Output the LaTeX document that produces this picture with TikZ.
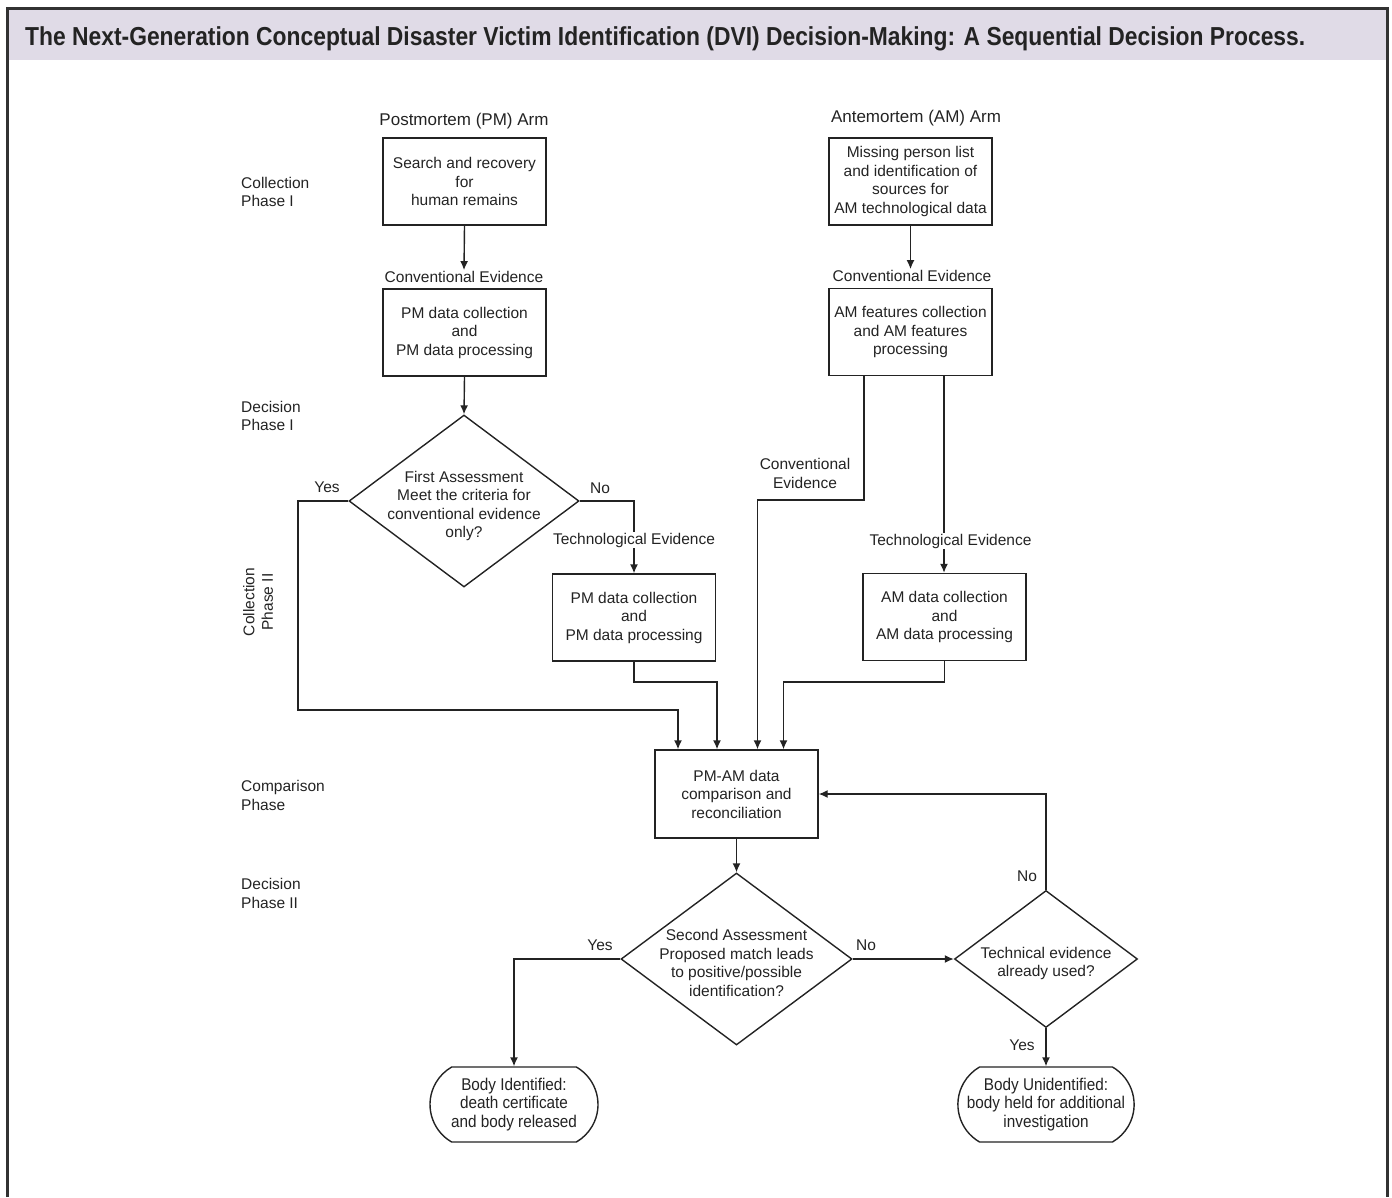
\documentclass[tikz,border=0pt]{standalone}
\usepackage{fontspec}
\setmainfont{Liberation Sans}
\newfontfamily\condfont{Liberation Sans}[FakeStretch=0.9]
\usetikzlibrary{arrows.meta,shapes.geometric,shapes.misc,calc}
\definecolor{band}{RGB}{224,219,231}
\definecolor{ink}{RGB}{35,35,35}
\definecolor{framec}{RGB}{50,50,50}
\begin{document}
\begin{tikzpicture}[x=1pt,y=-1pt,
 every node/.style={text=ink},
 body/.style={font=\fontsize{15.5}{18.5}\selectfont, align=center, inner sep=1pt},
 box/.style={draw=ink, line width=1.4pt, minimum width=163pt, minimum height=87pt, inner sep=0pt, align=center, font=\fontsize{15.5}{18.5}\selectfont},
 dec/.style={diamond, draw=ink, line width=1.4pt, inner sep=0pt},
 term/.style={rounded rectangle, rounded rectangle arc length=120, draw=ink, line width=1.4pt, minimum width=168pt, minimum height=75pt, inner sep=0pt, align=center, font=\condfont\fontsize{17}{18.5}\selectfont},
 phase/.style={font=\fontsize{15.5}{18.5}\selectfont, align=left, anchor=west, inner sep=0pt},
 conn/.style={draw=ink, line width=1.4pt},
 arr/.style={conn, -{Latex[length=9pt,width=8pt]}},
]
\useasboundingbox (0,0) rectangle (1392,1197);
\fill[band] (7,8) rectangle (1387,60);
\draw[framec, line width=3pt] (7,1197) -- (7,8) -- (1387,8) -- (1387,1197);
\node[anchor=base west, inner sep=0pt] (title) at (25,45) {\resizebox{1280pt}{\height}{\fontsize{26}{30}\selectfont\bfseries The Next-Generation Conceptual Disaster Victim Identification (DVI) Decision-Making: A Sequential Decision Process.}};

% phase labels
\node[phase] (ph1) at (241,192) {Collection\\Phase I};
\node[phase] (ph2) at (241,416) {Decision\\Phase I};
\node[font=\fontsize{15.5}{18.5}\selectfont, align=center, rotate=90, inner sep=0pt] (ph3) at (258,602) {Collection\\Phase II};
\node[phase] (ph4) at (241,795.5) {Comparison\\Phase};
\node[phase] (ph5) at (241,893.5) {Decision\\Phase II};

% arm headers
\node[font=\fontsize{17}{20}\selectfont, inner sep=0pt] (pmarm) at (464,121) {Postmortem (PM) Arm};
\node[font=\fontsize{17}{20}\selectfont, inner sep=0pt] (amarm) at (916,118) {Antemortem (AM) Arm};

% PM arm
\node[box] (b1) at (464.5,181.5) {Search and recovery\\for\\human remains};
\node[body] (ce1) at (464,277) {Conventional Evidence};
\node[box] (b2) at (464.5,332.5) {PM data collection\\and\\PM data processing};
\node[dec, minimum width=230pt, minimum height=172pt] (d1) at (464,501) {};
\node[body] (d1t) at (464,506) {First Assessment\\Meet the criteria for\\conventional evidence\\only?};
\node[body] (y1) at (327,487) {Yes};
\node[body] (n1) at (600,488) {No};
\node[body] (te1) at (634,540) {Technological Evidence};
\node[box] (b3) at (634,617.5) {PM data collection\\and\\PM data processing};

% AM arm
\node[box] (b4) at (910.5,181.5) {Missing person list\\and identification of\\sources for\\AM technological data};
\node[body] (ce2) at (912,276) {Conventional Evidence};
\node[box] (b5) at (910.5,332) {AM features collection\\and AM features\\processing};
\node[body] (ce3) at (805,473.5) {Conventional\\Evidence};
\node[body] (te2) at (950.5,541) {Technological Evidence};
\node[box] (b6) at (944.5,617) {AM data collection\\and\\AM data processing};

% comparison
\node[box, minimum height=88pt] (cmp) at (736.5,794) {PM-AM data\\comparison and\\reconciliation};
\node[dec, minimum width=231pt, minimum height=172pt] (d2) at (736.5,959) {};
\node[body] (d2t) at (736.5,963) {Second Assessment\\Proposed match leads\\to positive/possible\\identification?};
\node[dec, minimum width=183pt, minimum height=137pt] (d3) at (1046,959) {};
\node[body] (d3t) at (1046,963.5) {Technical evidence\\already used?};
\node[body] (y2) at (600,945) {Yes};
\node[body] (n2) at (866,945) {No};
\node[body] (n3) at (1027,876) {No};
\node[body] (y3) at (1022,1045) {Yes};
\node[term] (bid) at (514,1104.5) {Body Identified:\\death certificate\\and body released};
\node[term] (bun) at (1046,1104.5) {Body Unidentified:\\body held for additional\\investigation};

% coordinates
\coordinate (yc) at (298,710);
\coordinate (j1) at (717,682);
\coordinate (c1) at (757.5,500);
\coordinate (t2) at ([xshift=33.5pt]b5.south);
\coordinate (s1) at ([xshift=-46.5pt]b5.south);
\coordinate (j2) at (783.5,682);
\coordinate (i1) at (678,710);

% connectors
\draw[arr] (b1.south) -- (ce1.north);
\draw[arr] (b2.south) -- (d1.north);
\draw[arr] (d1.west) -| (yc) -- (i1) -- (i1 |- cmp.north);
\draw[conn] (d1.east) -| (te1.north);
\draw[arr] (te1.south) -- (b3.north);
\draw[arr] (b3.south) |- (j1) -- (j1 |- cmp.north);

\draw[arr] (b4.south) -- (b4.south |- ce2.north);
\draw[arr] (s1) |- (c1) -- (c1 |- cmp.north);
\draw[conn] (t2) -- (t2 |- te2.north);
\draw[arr] (t2 |- te2.south) -- (t2 |- b6.north);
\draw[arr] (b6.south) |- (j2) -- (j2 |- cmp.north);

\draw[arr] (cmp.south) -- (d2.north);
\draw[arr] (d2.west) -| (bid.north);
\draw[arr] (d2.east) -- (d3.west);
\draw[arr] (d3.north) |- (cmp.east);
\draw[arr] (d3.south) -- (bun.north);
\end{tikzpicture}
\end{document}
